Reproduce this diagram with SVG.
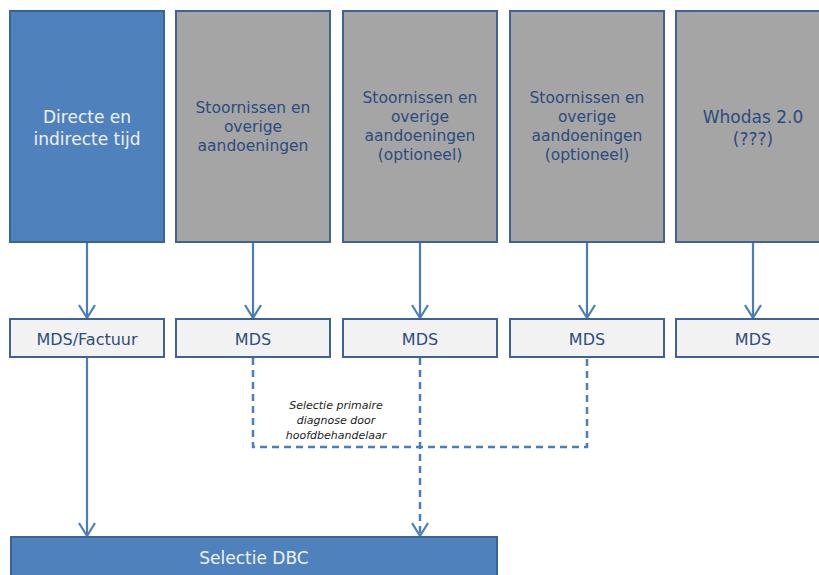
<svg xmlns="http://www.w3.org/2000/svg" width="819" height="575" viewBox="0 0 819 575">
<style>
.blue{fill:#4F81BD;stroke:#3A6395;stroke-width:2}
.gray{fill:#A5A5A5;stroke:#3F6393;stroke-width:2}
.mds{fill:#F2F2F2;stroke:#3F6393;stroke-width:2}
.t{font-family:"DejaVu Sans",Verdana,sans-serif;text-anchor:middle}
.wt{fill:#EEF2F8;font-size:17px}
.dt{fill:#2B4C7E;font-size:15.5px}
.dt17{fill:#2B4C7E;font-size:17px}
.mt{fill:#2B4C7E;font-size:16px}
.lbl{fill:#222;font-size:11px;font-style:italic}
.c{fill:none;stroke:#4A7EBB;stroke-width:2.2}
.d{stroke-dasharray:7,5;stroke-width:2.5}
</style>
<defs>
<marker id="arr" viewBox="0 0 20 20" refX="17" refY="10" markerWidth="20" markerHeight="20" markerUnits="userSpaceOnUse" orient="auto">
<path d="M4,2 L17,10 L4,18" fill="none" stroke="#4A7EBB" stroke-width="2.2"/>
</marker>
</defs>
<rect width="819" height="575" fill="#fff"/>
<g id="connectors">
<path class="c" d="M87,243 V318" marker-end="url(#arr)"/>
<path class="c" d="M253,243 V318" marker-end="url(#arr)"/>
<path class="c" d="M420,243 V318" marker-end="url(#arr)"/>
<path class="c" d="M587,243 V318" marker-end="url(#arr)"/>
<path class="c" d="M753,243 V318" marker-end="url(#arr)"/>
<path class="c" d="M87,358 V536" marker-end="url(#arr)"/>
<path class="c d" d="M253,358 V447 H587 V358"/>
<path class="c d" d="M420,358 V536" marker-end="url(#arr)"/>
<text class="t lbl" x="336" y="409">Selectie primaire</text>
<text class="t lbl" x="336" y="424">diagnose door</text>
<text class="t lbl" x="336" y="439">hoofdbehandelaar</text>
</g>
<g id="n1"><rect class="blue" x="10" y="11" width="154" height="231"/>
<text class="t wt" x="87" y="123">Directe en</text><text class="t wt" x="87" y="145">indirecte tijd</text></g>
<g id="n2"><rect class="gray" x="176" y="11" width="154" height="231"/>
<text class="t dt" x="253" y="113">Stoornissen en</text><text class="t dt" x="253" y="132">overige</text><text class="t dt" x="253" y="151">aandoeningen</text></g>
<g id="n3"><rect class="gray" x="343" y="11" width="154" height="231"/>
<text class="t dt" x="420" y="103">Stoornissen en</text><text class="t dt" x="420" y="122">overige</text><text class="t dt" x="420" y="141">aandoeningen</text><text class="t dt" x="420" y="160">(optioneel)</text></g>
<g id="n4"><rect class="gray" x="510" y="11" width="154" height="231"/>
<text class="t dt" x="587" y="103">Stoornissen en</text><text class="t dt" x="587" y="122">overige</text><text class="t dt" x="587" y="141">aandoeningen</text><text class="t dt" x="587" y="160">(optioneel)</text></g>
<g id="n5"><rect class="gray" x="676" y="11" width="154" height="231"/>
<text class="t dt17" x="753" y="123">Whodas 2.0</text><text class="t dt17" x="753" y="145">(???)</text></g>
<g id="m1"><rect class="mds" x="10" y="319" width="154" height="38"/><text class="t mt" x="87" y="345">MDS/Factuur</text></g>
<g id="m2"><rect class="mds" x="176" y="319" width="154" height="38"/><text class="t mt" x="253" y="345">MDS</text></g>
<g id="m3"><rect class="mds" x="343" y="319" width="154" height="38"/><text class="t mt" x="420" y="345">MDS</text></g>
<g id="m4"><rect class="mds" x="510" y="319" width="154" height="38"/><text class="t mt" x="587" y="345">MDS</text></g>
<g id="m5"><rect class="mds" x="676" y="319" width="154" height="38"/><text class="t mt" x="753" y="345">MDS</text></g>
<g id="dbc"><rect class="blue" x="11" y="537" width="486" height="50"/><text class="t wt" x="254" y="564">Selectie DBC</text></g>
</svg>
